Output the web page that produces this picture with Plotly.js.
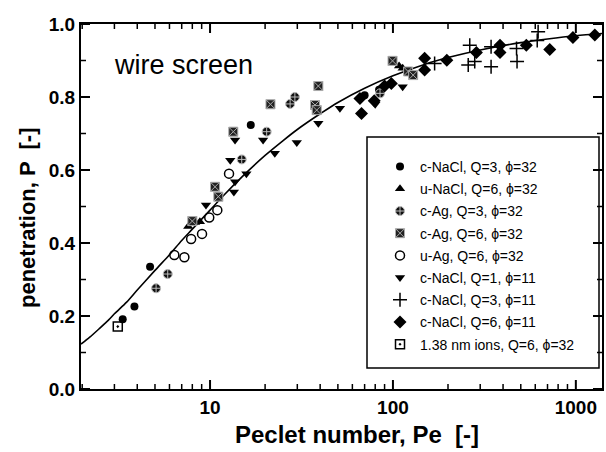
<!DOCTYPE html>
<html>
<head>
<meta charset="utf-8">
<script src="https://cdn.plot.ly/plotly-3.0.1.min.js"></script>
<style>html,body{margin:0;padding:0;background:#fff}#chart{width:606px;height:452px}</style>
</head>
<body>
<div id="chart"></div>
<script>
// ---- data ----
const seriesNames = [
  "c-NaCl, Q=3, \u03d5=32",
  "u-NaCl, Q=6, \u03d5=32",
  "c-Ag, Q=3, \u03d5=32",
  "c-Ag, Q=6, \u03d5=32",
  "u-Ag, Q=6, \u03d5=32",
  "c-NaCl, Q=1, \u03d5=11",
  "c-NaCl, Q=3, \u03d5=11",
  "c-NaCl, Q=6, \u03d5=11",
  "1.38 nm ions, Q=6, \u03d5=32"
];

const cNaCl3_32_x = [3.33, 3.86, 4.70, 16.7, 70, 84];
const cNaCl3_32_y = [0.191, 0.226, 0.335, 0.723, 0.805, 0.82];

const uNaCl6_32_x = [7.6, 8.28, 8.8, 113, 108];
const uNaCl6_32_y = [0.445, 0.456, 0.458, 0.879, 0.885];

const cAg3_32_x = [5.07, 5.87, 14.9, 20.4, 27.4, 29.1, 85];
const cAg3_32_y = [0.276, 0.315, 0.629, 0.705, 0.781, 0.80, 0.81];

const cAg6_32_x = [8.0, 10.65, 11.1, 13.4, 21.4, 39.1, 37.5, 38.3, 99.5, 121, 129];
const cAg6_32_y = [0.46, 0.554, 0.527, 0.705, 0.78, 0.83, 0.778, 0.764, 0.899, 0.87, 0.86];

const uAg6_32_x = [6.38, 7.24, 7.88, 9.04, 9.9, 10.96, 12.7];
const uAg6_32_y = [0.367, 0.361, 0.411, 0.425, 0.47, 0.49, 0.59];

const cNaCl1_11_x = [9.5, 13.5, 12.9, 13.7, 15.8, 13.7, 19.5, 22.6, 29.8, 39.1, 51.3, 80, 113];
const cNaCl1_11_y = [0.504, 0.54, 0.627, 0.568, 0.59, 0.682, 0.682, 0.646, 0.675, 0.728, 0.769, 0.78, 0.828];

const cNaCl3_11_x = [169, 263, 258, 280, 344, 344, 474, 477, 622, 615];
const cNaCl3_11_y = [0.892, 0.942, 0.888, 0.897, 0.938, 0.883, 0.933, 0.897, 0.979, 0.955];

const cNaCl6_11_x = [66, 67.3, 79, 90, 98, 149, 149, 197, 286, 385, 385, 536, 720, 964, 1270];
const cNaCl6_11_y = [0.796, 0.755, 0.79, 0.83, 0.837, 0.906, 0.874, 0.901, 0.922, 0.942, 0.922, 0.942, 0.93, 0.963, 0.97];

const ions_x = [3.13];
const ions_y = [0.171];

// fitted curve, points
const fitX = [1.97, 2.2, 2.5, 2.8, 3, 3.5, 4, 5, 6, 7, 8, 10, 12, 15, 20, 25, 30, 40, 50, 70, 100, 150, 200, 300, 500, 700, 1000, 1390];
const fitY = [0.123, 0.142, 0.167, 0.190, 0.206, 0.238, 0.271, 0.325, 0.368, 0.407, 0.438, 0.490, 0.533, 0.582, 0.640, 0.680, 0.711, 0.754, 0.785, 0.824, 0.858, 0.890, 0.908, 0.929, 0.949, 0.959, 0.968, 0.974];

// axis tick values
const xRange = [1.97, 1390];
const xMajorTicks = [10, 100, 1000];
const xMinorTicks = [2, 3, 4, 5, 6, 7, 8, 9, 20, 30, 40, 50, 60, 70, 80, 90, 200, 300, 400, 500, 600, 700, 800, 900];
const yMajorTicks = [0, 0.2, 0.4, 0.6, 0.8, 1.0];
const yMinorTicks = [0.1, 0.3, 0.5, 0.7, 0.9];

// ---- traces ----
const xs = [cNaCl3_32_x, uNaCl6_32_x, cAg3_32_x, cAg6_32_x, uAg6_32_x, cNaCl1_11_x, cNaCl3_11_x, cNaCl6_11_x, ions_x];
const ys = [cNaCl3_32_y, uNaCl6_32_y, cAg3_32_y, cAg6_32_y, uAg6_32_y, cNaCl1_11_y, cNaCl3_11_y, cNaCl6_11_y, ions_y];
const markerStyles = [
  {symbol: "circle", size: 8, color: "#000", line: {width: 0}},
  {symbol: "triangle-up", size: 9, color: "#000", line: {width: 0}},
  {symbol: "circle-cross", size: 9, color: "#111", line: {width: 1, color: "#bbb"}},
  {symbol: "square-x", size: 9, color: "#222", line: {width: 1, color: "#aaa"}},
  {symbol: "circle-open", size: 9, color: "#000", line: {width: 1.5}},
  {symbol: "triangle-down", size: 9, color: "#000", line: {width: 0}},
  {symbol: "cross-thin-open", size: 10, color: "#000", line: {width: 1.5}},
  {symbol: "diamond", size: 10, color: "#000", line: {width: 0}},
  {symbol: "square-open-dot", size: 9, color: "#000", line: {width: 1.5}}
];

const traces = [{
  x: fitX, y: fitY, mode: "lines", type: "scatter",
  line: {color: "#000", width: 1.6, shape: "spline", smoothing: 0.8},
  showlegend: false, hoverinfo: "skip"
}];
for (let i = 0; i < seriesNames.length; i++) {
  traces.push({
    x: xs[i], y: ys[i], name: seriesNames[i], type: "scatter", mode: "markers",
    marker: markerStyles[i], legendgroup: "g" + i
  });
}

const FAM = "Liberation Sans, Arial, sans-serif";
const tickFont = {family: FAM, size: 19, color: "#000", weight: "bold"};
const W = 606, H = 452, L = 81, R = 4, T = 24, B = 63;
const pw = W - L - R, ph = H - T - B;
const px = v => (v - L) / pw;
const py = v => (H - B - v) / ph;
const lr0 = Math.log10(xRange[0]), lr1 = Math.log10(xRange[1]);
const xFrac = v => (Math.log10(v) - lr0) / (lr1 - lr0);

// tick marks (inside, mirrored on top/right)
const shapes = [];
function xTick(v, len, w) {
  const f = xFrac(v);
  shapes.push({type: "line", xref: "paper", yref: "paper", x0: f, x1: f, y0: 0, y1: len / ph, line: {color: "#000", width: w}});
  shapes.push({type: "line", xref: "paper", yref: "paper", x0: f, x1: f, y0: 1, y1: 1 - len / ph, line: {color: "#000", width: w}});
}
function yTick(v, len, w) {
  shapes.push({type: "line", xref: "paper", yref: "paper", x0: 0, x1: len / pw, y0: v, y1: v, line: {color: "#000", width: w}});
  shapes.push({type: "line", xref: "paper", yref: "paper", x0: 1, x1: 1 - len / pw, y0: v, y1: v, line: {color: "#000", width: w}});
}
xMajorTicks.forEach(v => xTick(v, 9, 2));
xMinorTicks.forEach(v => xTick(v, 5, 1.5));
yMajorTicks.forEach(v => yTick(v, 9, 2));
yMinorTicks.forEach(v => yTick(v, 5, 1.5));
shapes.push({
  type: "rect", xref: "paper", yref: "paper",
  x0: px(367), x1: px(599), y0: py(368), y1: py(137),
  line: {color: "#000", width: 1.5}, fillcolor: "rgba(0,0,0,0)"
});

const layout = {
  width: W, height: H,
  margin: {l: L, r: R, t: T, b: B},
  paper_bgcolor: "#fff", plot_bgcolor: "#fff",
  showlegend: true,
  legend: {
    x: px(380), y: py(151), xanchor: "left", yanchor: "top",
    bgcolor: "rgba(255,255,255,0)", borderwidth: 0,
    font: {family: FAM, size: 14, color: "#000"},
    tracegroupgap: 1, itemwidth: 30
  },
  xaxis: {
    type: "log", range: [lr0, lr1],
    tickmode: "array", tickvals: xMajorTicks, ticktext: xMajorTicks.map(String),
    ticks: "", showline: true, linecolor: "#000", linewidth: 2, mirror: true,
    showgrid: false, zeroline: false,
    tickfont: tickFont
  },
  yaxis: {
    range: [0, 1], tickmode: "array", tickvals: yMajorTicks, ticktext: yMajorTicks.map(v => v.toFixed(1)),
    ticks: "", showline: true, linecolor: "#000", linewidth: 2, mirror: true,
    showgrid: false, zeroline: false,
    tickfont: tickFont
  },
  shapes: shapes,
  annotations: [{
    text: "wire screen", xref: "paper", yref: "paper",
    x: px(112), y: py(65), xanchor: "left", yanchor: "middle", showarrow: false,
    font: {family: FAM, size: 27, color: "#000"}
  }, {
    text: "Peclet number, Pe  [-]", xref: "paper", yref: "paper",
    x: px(357), y: py(434), xanchor: "center", yanchor: "middle", showarrow: false,
    font: {family: FAM, size: 24, color: "#000", weight: "bold"}
  }, {
    text: "penetration, P  [-]", xref: "paper", yref: "paper", textangle: -90,
    x: px(27), y: py(218), xanchor: "center", yanchor: "middle", showarrow: false,
    font: {family: FAM, size: 22, color: "#000", weight: "bold"}
  }]
};

Plotly.newPlot("chart", traces, layout, {displayModeBar: false});
</script>
</body>
</html>
